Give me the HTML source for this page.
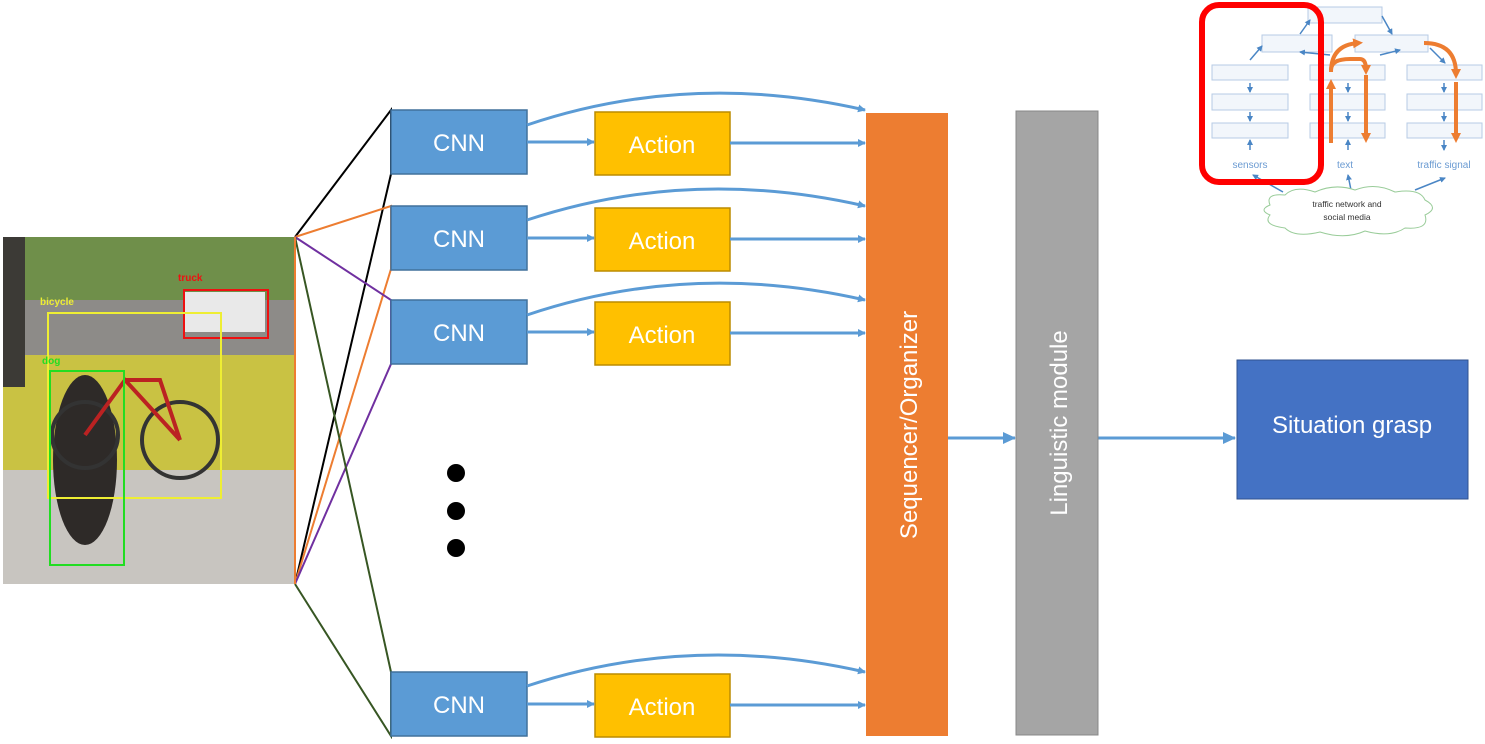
<!DOCTYPE html>
<html><head><style>
body{margin:0;background:#fff;width:1485px;height:739px;overflow:hidden;font-family:"Liberation Sans",sans-serif}
</style></head><body>
<svg width="1485" height="739" xmlns="http://www.w3.org/2000/svg">
<defs>
<marker id="a" markerWidth="8" markerHeight="8" refX="7" refY="4" orient="auto" markerUnits="userSpaceOnUse"><path d="M0,0 L8,4 L0,8z" fill="#5b9bd5"/></marker>
<marker id="b" markerWidth="14" markerHeight="14" refX="12" refY="6" orient="auto" markerUnits="userSpaceOnUse"><path d="M0,0 L13,6 L0,12z" fill="#5b9bd5"/></marker>
<marker id="s" markerWidth="6" markerHeight="6" refX="5" refY="3" orient="auto" markerUnits="userSpaceOnUse"><path d="M0,0 L6,3 L0,6z" fill="#4a86c5"/></marker>
<marker id="o" markerWidth="10" markerHeight="10" refX="5" refY="5" orient="auto" markerUnits="userSpaceOnUse"><path d="M0,0 L10,5 L0,10z" fill="#ed7d31"/></marker>
</defs>
<!-- photo -->
<rect x="3" y="237" width="292" height="347" fill="#a9a49a"/>
<rect x="3" y="237" width="292" height="70" fill="#6f8f4a"/>
<rect x="3" y="300" width="292" height="60" fill="#8d8b88"/>
<rect x="3" y="355" width="292" height="115" fill="#c9c243"/>
<rect x="3" y="470" width="292" height="114" fill="#c8c5c0"/>
<rect x="3" y="237" width="22" height="150" fill="#3c3a36"/>
<rect x="185" y="292" width="80" height="40" fill="#e9e9e9"/>
<ellipse cx="85" cy="460" rx="32" ry="85" fill="#2e2a28"/>
<circle cx="85" cy="435" r="33" fill="none" stroke="#333" stroke-width="4"/>
<circle cx="180" cy="440" r="38" fill="none" stroke="#333" stroke-width="4"/>
<path d="M85 435 L125 380 L180 440 M125 380 L160 380 L180 440" stroke="#b22" stroke-width="4" fill="none"/>
<rect x="184" y="290" width="84" height="48" fill="none" stroke="#e11" stroke-width="2"/>
<rect x="48" y="313" width="173" height="185" fill="none" stroke="#ee3" stroke-width="2"/>
<rect x="50" y="371" width="74" height="194" fill="none" stroke="#2d2" stroke-width="2"/>
<text x="178" y="281" font-size="10" font-weight="bold" fill="#e11">truck</text>
<text x="40" y="305" font-size="10" font-weight="bold" fill="#ee3">bicycle</text>
<text x="42" y="364" font-size="10" font-weight="bold" fill="#2d2">dog</text>
<!-- fan lines -->
<g fill="none" stroke-width="2">
<path d="M295,237 L391,110 L391,174 L295,584" stroke="#000"/>
<path d="M295,237 L391,206 L391,269 L295,584" stroke="#ed7d31"/>
<path d="M295,237 L391,300 L391,364 L295,584" stroke="#7030a0"/>
<path d="M295,237 L391,672 L391,736 L295,584" stroke="#375623"/>
<path d="M295,237 L295,584" stroke="#ed7d31"/>
</g>
<!-- rows -->
<g font-size="24" fill="#fff" text-anchor="middle">
<g id="r">
<rect x="391" y="110" width="136" height="64" fill="#5b9bd5" stroke="#41719c" stroke-width="1.5"/>
<text x="459" y="151">CNN</text>
<rect x="595" y="112" width="135" height="63" fill="#ffc000" stroke="#bc8c00" stroke-width="1.5"/>
<text x="662" y="153">Action</text>
</g>
<use href="#r" y="96"/>
<use href="#r" y="190"/>
<use href="#r" y="562"/>
</g>
<g fill="none" stroke="#5b9bd5" stroke-width="3">
<path d="M527,142 L594,142" marker-end="url(#a)"/><path d="M730,143 L865,143" marker-end="url(#a)"/>
<path d="M527,125 Q690,70 865,110" marker-end="url(#a)"/>
<path d="M527,238 L594,238" marker-end="url(#a)"/><path d="M730,239 L865,239" marker-end="url(#a)"/>
<path d="M527,220 Q690,166 865,206" marker-end="url(#a)"/>
<path d="M527,332 L594,332" marker-end="url(#a)"/><path d="M730,333 L865,333" marker-end="url(#a)"/>
<path d="M527,315 Q690,260 865,300" marker-end="url(#a)"/>
<path d="M527,704 L594,704" marker-end="url(#a)"/><path d="M730,705 L865,705" marker-end="url(#a)"/>
<path d="M527,686 Q690,632 865,672" marker-end="url(#a)"/>
<path d="M948,438 L1015,438" marker-end="url(#b)"/>
<path d="M1098,438 L1235,438" marker-end="url(#b)"/>
</g>
<circle cx="456" cy="473" r="9" fill="#000"/><circle cx="456" cy="511" r="9" fill="#000"/><circle cx="456" cy="548" r="9" fill="#000"/>
<rect x="866" y="113" width="82" height="623" fill="#ed7d31"/>
<text transform="translate(917,425) rotate(-90)" font-size="24" fill="#fff" text-anchor="middle">Sequencer/Organizer</text>
<rect x="1016" y="111" width="82" height="624" fill="#a5a5a5" stroke="#888"/>
<text transform="translate(1067,423) rotate(-90)" font-size="24" fill="#fff" text-anchor="middle">Linguistic module</text>
<rect x="1237" y="360" width="231" height="139" fill="#4472c4" stroke="#2f528f"/>
<text x="1352" y="433" font-size="24" fill="#fff" text-anchor="middle">Situation grasp</text>
<!-- inset -->
<g fill="#f2f6fb" stroke="#b7cbe4" stroke-width="1">
<rect x="1308" y="7" width="74" height="16"/>
<rect x="1262" y="35" width="70" height="17"/><rect x="1355" y="35" width="73" height="17"/>
<rect x="1212" y="65" width="76" height="15"/><rect x="1212" y="94" width="76" height="16"/><rect x="1212" y="123" width="76" height="15"/>
<rect x="1310" y="65" width="75" height="15"/><rect x="1310" y="94" width="75" height="16"/><rect x="1310" y="123" width="75" height="15"/>
<rect x="1407" y="65" width="75" height="15"/><rect x="1407" y="94" width="75" height="16"/><rect x="1407" y="123" width="75" height="15"/>
</g>
<g stroke="#4a86c5" stroke-width="1.5" fill="none" marker-end="url(#s)">
<path d="M1250,83 L1250,92"/><path d="M1250,112 L1250,121"/><path d="M1250,150 L1250,140"/>
<path d="M1348,83 L1348,92"/><path d="M1348,112 L1348,121"/><path d="M1348,150 L1348,140"/>
<path d="M1444,83 L1444,92"/><path d="M1444,112 L1444,121"/><path d="M1444,140 L1444,150"/>
<path d="M1250,60 L1262,46"/><path d="M1300,34 L1310,20"/><path d="M1382,16 L1392,34"/>
<path d="M1430,48 L1445,63"/><path d="M1330,55 L1300,52"/><path d="M1380,55 L1400,50"/>
<path d="M1283,192 L1253,175"/><path d="M1351,190 L1348,175"/><path d="M1415,190 L1445,178"/>
</g>
<g stroke="#ed7d31" stroke-width="4" fill="none">
<path d="M1331,143 L1331,84" marker-end="url(#o)"/>
<path d="M1331,72 Q1331,45 1358,43" marker-end="url(#o)"/>
<path d="M1331,70 Q1331,59 1350,59 L1360,59 Q1366,59 1366,70" marker-end="url(#o)"/>
<path d="M1366,75 L1366,138" marker-end="url(#o)"/>
<path d="M1424,43 Q1456,43 1456,74" marker-end="url(#o)"/>
<path d="M1456,82 L1456,138" marker-end="url(#o)"/>
</g>
<g font-size="10" fill="#6b9bd2" text-anchor="middle"><text x="1250" y="168">sensors</text><text x="1345" y="168">text</text><text x="1444" y="168">traffic signal</text></g>
<path d="M1270,205 Q1265,193 1285,195 Q1295,185 1315,192 Q1335,183 1355,190 Q1375,182 1395,192 Q1420,188 1425,200 Q1440,208 1425,215 Q1430,230 1405,228 Q1390,238 1365,231 Q1345,240 1320,232 Q1295,238 1285,228 Q1262,225 1270,215 Q1258,210 1270,205z" fill="#fff" stroke="#9c9" stroke-width="1"/>
<g font-size="8.5" fill="#333" text-anchor="middle"><text x="1347" y="207">traffic network and</text><text x="1347" y="220">social media</text></g>
<rect x="1202" y="5" width="119" height="177" rx="17" fill="none" stroke="#f00" stroke-width="6"/>
</svg>
</body></html>
